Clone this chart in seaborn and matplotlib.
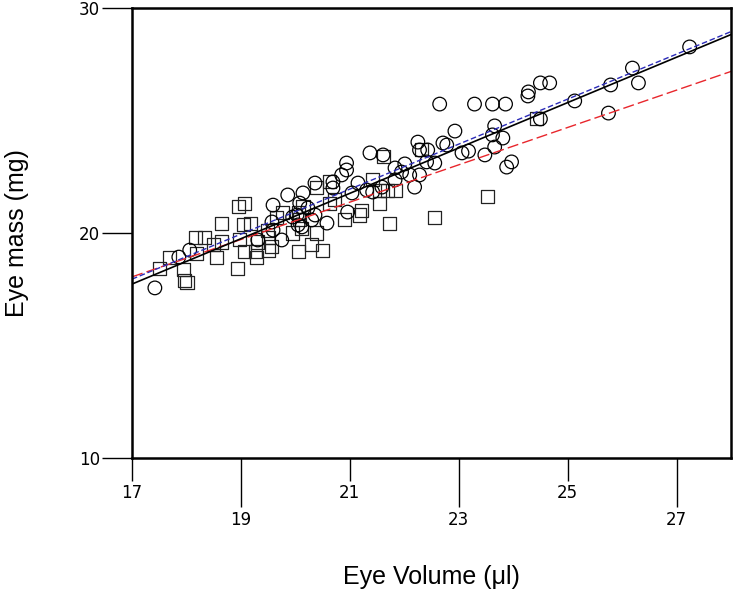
import matplotlib
matplotlib.use("Agg")
import matplotlib.pyplot as plt
import seaborn as sns
import pandas as pd
from matplotlib.ticker import FixedLocator, FixedFormatter

# circles (group A)
circle_vol = [17.42, 17.86, 18.06, 19.31, 19.75, 19.59, 19.57, 19.86, 20.14, 20.12,
              21.37, 21.61, 20.94, 20.94, 20.85, 20.36, 20.69, 20.69, 21.15, 20.08,
              21.04, 21.31, 21.42, 21.59, 21.83, 20.58, 20.96, 20.05, 19.59, 20.23,
              20.36, 20.03, 22.65, 23.29, 23.62, 23.86, 22.93, 23.66, 23.81, 23.62,
              22.25, 22.71, 22.78, 22.28, 22.43, 23.06, 23.18, 23.48, 23.66, 23.97,
              23.88, 22.56, 22.41, 22.01, 21.83, 22.10, 22.28, 22.19, 21.95, 27.24,
              26.19, 26.30, 25.79, 25.13, 25.75, 24.67, 24.50, 24.28, 24.27, 24.50,
              19.95, 20.30]
circle_mass = [17.56, 18.93, 19.24, 19.69, 19.69, 21.24, 20.49, 21.69, 21.78, 20.27,
               23.56, 23.47, 23.11, 22.80, 22.58, 22.22, 22.27, 22.00, 22.22, 21.33,
               21.78, 21.91, 21.82, 22.04, 22.36, 20.44, 20.93, 20.36, 20.13, 21.11,
               20.80, 20.80, 25.73, 25.73, 25.73, 25.73, 24.53, 24.76, 24.22, 24.36,
               24.04, 24.00, 23.91, 23.69, 23.69, 23.56, 23.64, 23.47, 23.82, 23.16,
               22.93, 23.11, 23.16, 23.07, 22.89, 22.58, 22.58, 22.04, 22.71, 28.27,
               27.33, 26.67, 26.58, 25.87, 25.33, 26.67, 26.67, 26.27, 26.09, 25.07,
               20.71, 20.58]

# squares (group B)
square_vol = [17.50, 17.68, 17.94, 17.97, 18.01, 18.17, 18.34, 18.19, 18.56, 18.49,
              18.65, 18.65, 18.96, 19.07, 19.04, 19.17, 18.94, 18.98, 19.07, 19.26,
              19.29, 19.50, 19.50, 19.48, 19.31, 20.05, 20.30, 20.49, 20.39, 20.08,
              20.12, 20.05, 20.14, 19.77, 19.66, 19.57, 20.63, 20.39, 20.63, 20.72,
              20.91, 21.18, 21.22, 21.55, 21.73, 21.42, 21.55, 21.70, 21.61, 21.83,
              22.56, 23.53, 22.32, 24.43, 19.95]
square_mass = [18.44, 18.89, 18.36, 17.91, 17.82, 19.78, 19.82, 19.07, 18.89, 19.51,
               19.60, 20.44, 21.16, 21.33, 20.36, 20.44, 18.44, 19.69, 19.16, 19.16,
               18.93, 19.24, 19.78, 20.13, 19.60, 19.16, 19.47, 19.24, 20.00, 20.58,
               20.22, 20.93, 21.16, 20.89, 20.67, 19.38, 22.27, 22.04, 21.33, 21.47,
               20.58, 20.80, 21.02, 21.33, 20.44, 22.36, 21.91, 21.91, 23.42, 21.91,
               20.71, 21.64, 23.69, 25.07, 20.00]

# fitted lines (endpoints at x = 17 and x = 28)
line_x = [17, 28]
fit_all = [17.73, 28.82]
fit_circles = [17.95, 28.95]
fit_squares = [18.05, 27.18]

x_major = [17, 21, 25]
x_minor = [19, 23, 27]
y_ticks = [10, 20, 30]

sns.set_style("ticks")
plt.rcParams.update({
    "text.color": "black",
    "axes.labelcolor": "black",
    "xtick.color": "black",
    "ytick.color": "black",
    "xtick.labelcolor": "black",
    "ytick.labelcolor": "black",
})

fig = plt.figure(figsize=(7.33, 5.90), dpi=100)
ax = fig.add_axes([132 / 733, 1 - 458 / 590, 599 / 733, 450 / 590])

circles = pd.DataFrame({"vol": circle_vol, "mass": circle_mass})
squares = pd.DataFrame({"vol": square_vol, "mass": square_mass})

sns.scatterplot(data=squares, x="vol", y="mass", marker="s", s=88,
                facecolors="none", edgecolors="#222222", linewidth=0.9, ax=ax)
sns.scatterplot(data=circles, x="vol", y="mass", marker="o", s=96,
                facecolors="none", edgecolors="black", linewidth=0.9, ax=ax)

# regression lines
sns.lineplot(x=line_x, y=fit_squares, color="#e8262c", linewidth=1.0, ax=ax)
ax.lines[-1].set_dashes([8, 3])
sns.lineplot(x=line_x, y=fit_circles, color="#2b2bb8", linewidth=1.0, ax=ax)
ax.lines[-1].set_dashes([4, 2])
sns.lineplot(x=line_x, y=fit_all, color="black", linewidth=1.2, ax=ax)

ax.set_xlim(17, 28)
ax.set_ylim(10, 30)

for sp in ax.spines.values():
    sp.set_linewidth(1.8)
    sp.set_color("black")

ax.xaxis.set_major_locator(FixedLocator(x_major))
ax.xaxis.set_major_formatter(FixedFormatter([str(v) for v in x_major]))
ax.xaxis.set_minor_locator(FixedLocator(x_minor))
ax.xaxis.set_minor_formatter(FixedFormatter([str(v) for v in x_minor]))
ax.set_yticks(y_ticks)
ax.set_yticklabels([str(v) for v in y_ticks])

ax.tick_params(axis="x", which="major", length=16.5, width=1.0, pad=2.5,
               labelsize=12, direction="out", color="black", labelcolor="black")
ax.tick_params(axis="x", which="minor", length=35.5, width=1.0, pad=2.5,
               labelsize=12, direction="out", color="black", labelcolor="black")
ax.tick_params(axis="y", which="major", length=21.6, width=1.0, pad=1.5,
               labelsize=12, direction="out", color="black", labelcolor="black")
ax.tick_params(axis="y", which="minor", length=0)

ax.set_xlabel("Eye Volume (\u03bcl)", fontsize=18, family="Liberation Sans", color="black")
ax.set_ylabel("Eye mass (mg)", fontsize=18, family="Liberation Sans", color="black")
ax.xaxis.set_label_coords(0.5, (458 - 577) / 450)
ax.xaxis.label.set_verticalalignment("center")
ax.yaxis.set_label_coords((17 - 132) / 599, 0.5)
ax.yaxis.label.set_verticalalignment("center")

fig.savefig("out.png", dpi=100)
